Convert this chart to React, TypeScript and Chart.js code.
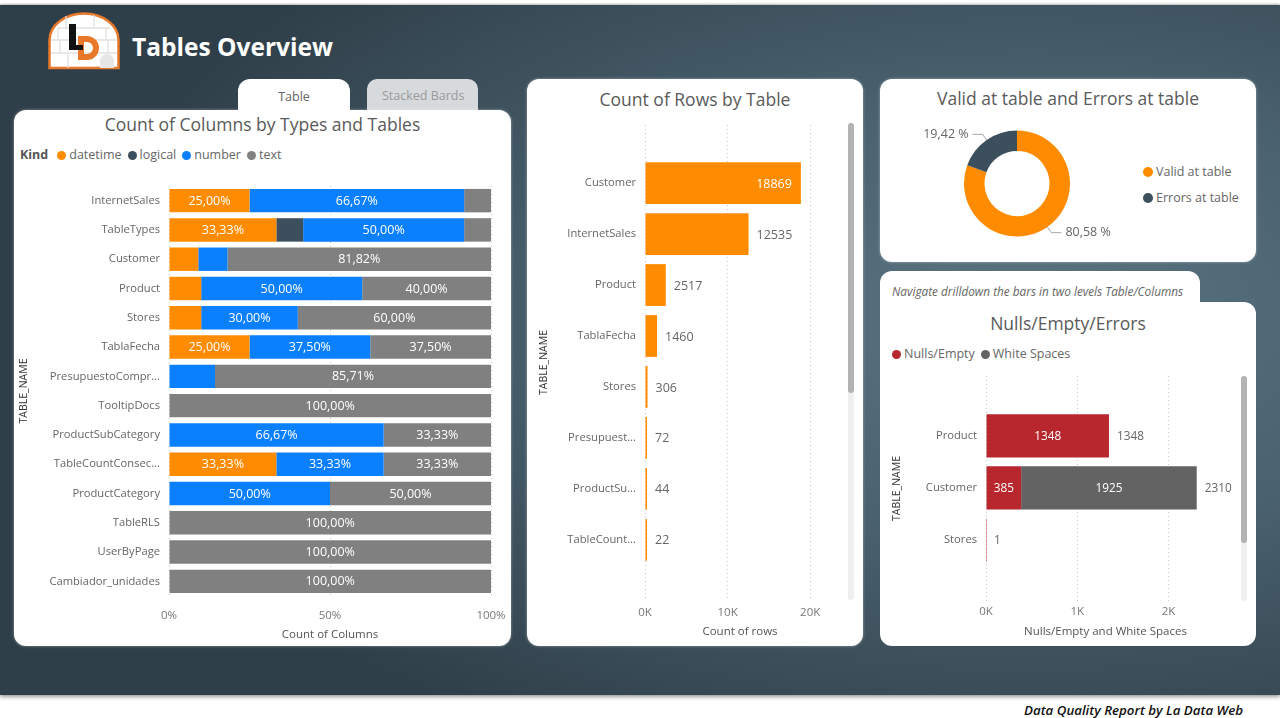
import React, { useEffect, useRef } from "react";
import { Chart, registerables } from "chart.js";

Chart.register(...registerables);

const FONT = "'Open Sans', 'Noto Sans', sans-serif";
Chart.defaults.font.family = FONT;

// ---------- Count of Columns by Types and Tables ----------
const columnTables = [
  "InternetSales", "TableTypes", "Customer", "Product", "Stores", "TablaFecha",
  "PresupuestoCompr...", "TooltipDocs", "ProductSubCategory", "TableCountConsec...",
  "ProductCategory", "TableRLS", "UserByPage", "Cambiador_unidades",
];
const kindNames = ["datetime", "logical", "number", "text"];
const datetimeCols = [3, 4, 1, 1, 1, 2, 0, 0, 0, 1, 0, 0, 0, 0];
const logicalCols = [0, 1, 0, 0, 0, 0, 0, 0, 0, 0, 0, 0, 0, 0];
const numberCols = [8, 6, 1, 5, 3, 3, 1, 0, 2, 1, 1, 0, 0, 0];
const textCols = [1, 1, 9, 4, 6, 3, 6, 1, 1, 1, 1, 1, 1, 1];
const kindColors = ["#FF8C00", "#3B4F5C", "#0A80FF", "#808080"];
const percentTicks = [0, 0.5, 1];

// ---------- Count of Rows by Table ----------
const rowTables = [
  "Customer", "InternetSales", "Product", "TablaFecha", "Stores",
  "Presupuest...", "ProductSu...", "TableCount...",
];
const rowCounts = [18869, 12535, 2517, 1460, 306, 72, 44, 22];
const rowTicks = [0, 10000, 20000];

// ---------- Valid / Errors ----------
const qualityLabels = ["Valid at table", "Errors at table"];
const qualityShares = [80.58, 19.42];
const qualityColors = ["#FF8C00", "#3B4F5C"];

// ---------- Nulls / Empty / Errors ----------
const nullTables = ["Product", "Customer", "Stores"];
const nullsEmpty = [1348, 385, 1];
const whiteSpaces = [0, 1925, 0];
const nullTicks = [0, 1000, 2000];
const nullColors = ["#B8262E", "#636363"];

const fmtPct = (v: number) => (v * 100).toFixed(2).replace(".", ",") + "%";

// ---------- plugins ----------
const columnLabelPlugin = {
  id: "columnLabels",
  afterDatasetsDraw(chart: any) {
    const ctx = chart.ctx;
    ctx.save();
    ctx.font = `12.5px ${FONT}`;
    ctx.textBaseline = "middle";
    ctx.textAlign = "center";
    ctx.fillStyle = "#ffffff";
    chart.data.datasets.forEach((ds: any, d: number) => {
      const meta = chart.getDatasetMeta(d);
      meta.data.forEach((bar: any, i: number) => {
        const v = ds.data[i];
        if (!v) return;
        const text = fmtPct(v);
        const w = Math.abs(bar.x - bar.base);
        const tw = ctx.measureText(text).width;
        if (w > tw + 8) ctx.fillText(text, (bar.x + bar.base) / 2, bar.y + 0.5);
      });
    });
    ctx.restore();
  },
};

const rowLabelPlugin = {
  id: "rowLabels",
  afterDatasetsDraw(chart: any) {
    const { ctx, chartArea } = chart;
    const ds = chart.data.datasets[0];
    const meta = chart.getDatasetMeta(0);
    ctx.save();
    ctx.font = `12.5px ${FONT}`;
    ctx.textBaseline = "middle";
    meta.data.forEach((bar: any, i: number) => {
      const text = String(ds.data[i].x);
      const tw = ctx.measureText(text).width;
      if (bar.x + 8 + tw > chartArea.right) {
        ctx.fillStyle = "#ffffff";
        ctx.textAlign = "right";
        ctx.fillText(text, bar.x - 9, bar.y + 1);
      } else {
        ctx.fillStyle = "#666666";
        ctx.textAlign = "left";
        ctx.fillText(text, bar.x + 8, bar.y + 1);
      }
    });
    ctx.restore();
  },
};

const nullLabelPlugin = {
  id: "nullLabels",
  afterDatasetsDraw(chart: any) {
    const ctx = chart.ctx;
    const xs = chart.scales.x;
    const ys = chart.scales.y;
    ctx.save();
    ctx.font = `11.8px ${FONT}`;
    ctx.textBaseline = "middle";
    ctx.textAlign = "center";
    ctx.fillStyle = "#ffffff";
    chart.data.datasets.forEach((ds: any, d: number) => {
      const meta = chart.getDatasetMeta(d);
      meta.data.forEach((bar: any, i: number) => {
        const v = ds.data[i].x;
        if (!v) return;
        const text = String(v);
        const w = Math.abs(bar.x - bar.base);
        if (w > ctx.measureText(text).width + 8) ctx.fillText(text, (bar.x + bar.base) / 2, bar.y + 0.5);
      });
    });
    ctx.fillStyle = "#666666";
    ctx.textAlign = "left";
    chart.data.labels.forEach((_: any, i: number) => {
      let total = 0;
      chart.data.datasets.forEach((ds: any) => (total += ds.data[i].x));
      ctx.fillText(String(total), xs.getPixelForValue(total) + 8, ys.getPixelForValue(i) + 0.5);
    });
    ctx.restore();
  },
};

const donutLabelPlugin = {
  id: "donutLabels",
  afterDatasetsDraw(chart: any) {
    const ctx = chart.ctx;
    const meta = chart.getDatasetMeta(0);
    const data = chart.data.datasets[0].data;
    ctx.save();
    ctx.font = `12.5px ${FONT}`;
    ctx.textBaseline = "middle";
    meta.data.forEach((arc: any, i: number) => {
      const { x, y, startAngle, endAngle, outerRadius } = arc.getProps(
        ["x", "y", "startAngle", "endAngle", "outerRadius"], true);
      const mid = (startAngle + endAngle) / 2;
      const c = Math.cos(mid), s = Math.sin(mid);
      const x0 = x + c * outerRadius, y0 = y + s * outerRadius;
      const x1 = x + c * (outerRadius + 7), y1 = y + s * (outerRadius + 7);
      const right = c >= 0;
      const x2 = x1 + (right ? 10 : -10);
      ctx.strokeStyle = "#a6a6a6";
      ctx.lineWidth = 1;
      ctx.beginPath();
      ctx.moveTo(x0, y0);
      ctx.lineTo(x1, y1);
      ctx.lineTo(x2, y1);
      ctx.stroke();
      ctx.fillStyle = "#666666";
      ctx.textAlign = right ? "left" : "right";
      ctx.fillText(data[i].toFixed(2).replace(".", ",") + " %", x2 + (right ? 4 : -4), y1);
    });
    ctx.restore();
  },
};

// ---------- configs ----------
const gridX = { color: "#c8c8c8", drawTicks: false, lineWidth: 1 };
const borderX = { display: false, dash: [1, 3] };
const noGrid = { display: false, drawTicks: false };

function columnsConfig(): any {
  const series = [datetimeCols, logicalCols, numberCols, textCols];
  const totals = columnTables.map((_, i) => series.reduce((a, s) => a + s[i], 0));
  return {
    type: "bar",
    data: {
      labels: columnTables,
      datasets: series.map((counts, k) => ({
        label: kindNames[k],
        data: counts.map((c, i) => c / totals[i]),
        backgroundColor: kindColors[k],
        borderWidth: 0,
        barPercentage: 0.8,
        categoryPercentage: 1,
      })),
    },
    options: {
      indexAxis: "y",
      animation: false,
      responsive: true,
      maintainAspectRatio: false,
      events: [],
      layout: { padding: { top: 24, right: 32, left: 0, bottom: 0 } },
      plugins: { legend: { display: false }, tooltip: { enabled: false } },
      scales: {
        x: {
          stacked: true, min: 0, max: 1,
          afterBuildTicks: (s: any) => { s.ticks = percentTicks.map((v) => ({ value: v })); },
          afterFit: (s: any) => { s.height = 50.5; },
          grid: gridX, border: borderX,
          ticks: { padding: 13, color: "#777777", font: { size: 11.5 }, callback: (v: any) => `${Math.round(v * 100)}%` },
          title: { display: true, text: "Count of Columns", color: "#555555", font: { size: 11.5 }, padding: { top: 0, bottom: 4.8 } },
        },
        y: {
          stacked: true,
          afterFit: (s: any) => { s.width = 155; },
          grid: noGrid, border: { display: false },
          ticks: { padding: 9, color: "#666666", font: { size: 11.2 }, autoSkip: false },
          title: { display: true, text: "TABLE_NAME", color: "#333333", font: { size: 10.5 }, padding: { top: 3.7, bottom: 0 } },
        },
      },
    },
    plugins: [columnLabelPlugin],
  };
}

function rowsConfig(): any {
  return {
    type: "bar",
    data: {
      labels: rowTables,
      datasets: [{
        label: "Count of rows",
        data: rowCounts.map((v, i) => ({ x: v, y: i })),
        backgroundColor: "#FF8C00",
        borderWidth: 0,
        minBarLength: 2,
        barPercentage: 0.82,
        categoryPercentage: 1,
      }],
    },
    options: {
      indexAxis: "y",
      animation: false,
      responsive: true,
      maintainAspectRatio: false,
      events: [],
      layout: { padding: { top: 24, right: 32, left: 0, bottom: 0 } },
      plugins: { legend: { display: false }, tooltip: { enabled: false } },
      scales: {
        x: {
          type: "linear", min: 0, max: 23000,
          afterBuildTicks: (s: any) => { s.ticks = rowTicks.map((v) => ({ value: v })); },
          afterFit: (s: any) => { s.height = 46; },
          grid: gridX, border: borderX,
          ticks: { padding: 5.5, color: "#777777", font: { size: 11.5 }, callback: (v: any) => `${v / 1000}K` },
          title: { display: true, text: "Count of rows", color: "#555555", font: { size: 11.5 }, padding: { top: 0, bottom: 7.8 } },
        },
        y: {
          type: "linear", offset: false, min: -1.14, max: 8.18, reverse: true,
          afterBuildTicks: (s: any) => { s.ticks = rowTables.map((_, i) => ({ value: i })); },
          afterFit: (s: any) => { s.width = 118; },
          grid: noGrid, border: { display: false },
          ticks: { padding: 9, color: "#666666", font: { size: 11.2 }, autoSkip: false, callback: (v: any) => rowTables[v] ?? "" },
          title: { display: true, text: "TABLE_NAME", color: "#333333", font: { size: 10.5 }, padding: { top: 10.7, bottom: 0 } },
        },
      },
    },
    plugins: [rowLabelPlugin],
  };
}

function donutConfig(): any {
  return {
    type: "doughnut",
    data: {
      labels: qualityLabels,
      datasets: [{ data: qualityShares, backgroundColor: qualityColors, borderWidth: 0, hoverOffset: 0 }],
    },
    options: {
      animation: false,
      responsive: true,
      maintainAspectRatio: false,
      events: [],
      radius: 53,
      cutout: 32.5,
      layout: { padding: { top: 15.5, bottom: 18.5, left: 0, right: 0 } },
      plugins: { legend: { display: false }, tooltip: { enabled: false } },
    },
    plugins: [donutLabelPlugin],
  };
}

function nullsConfig(): any {
  const series = [nullsEmpty, whiteSpaces];
  return {
    type: "bar",
    data: {
      labels: nullTables,
      datasets: series.map((vals, k) => ({
        label: k === 0 ? "Nulls/Empty" : "White Spaces",
        data: vals.map((v, i) => ({ x: v, y: i })),
        backgroundColor: nullColors[k],
        borderWidth: 0,
        inflateAmount: 0,
        barPercentage: 0.83,
        categoryPercentage: 1,
      })),
    },
    options: {
      indexAxis: "y",
      animation: false,
      responsive: true,
      maintainAspectRatio: false,
      events: [],
      layout: { padding: { top: 24, right: 32, left: 0, bottom: 0 } },
      plugins: { legend: { display: false }, tooltip: { enabled: false } },
      scales: {
        x: {
          type: "linear", stacked: true, min: 0, max: 2620,
          afterBuildTicks: (s: any) => { s.ticks = nullTicks.map((v) => ({ value: v })); },
          afterFit: (s: any) => { s.height = 45; },
          grid: gridX, border: borderX,
          ticks: { padding: 4, color: "#777777", font: { size: 11.5 }, callback: (v: any) => `${v / 1000}K` },
          title: { display: true, text: "Nulls/Empty and White Spaces", color: "#555555", font: { size: 11.5 }, padding: { top: 0, bottom: 7.8 } },
        },
        y: {
          type: "linear", offset: false, stacked: true, min: -1.15, max: 3.17, reverse: true,
          afterBuildTicks: (s: any) => { s.ticks = nullTables.map((_, i) => ({ value: i })); },
          afterFit: (s: any) => { s.width = 106; },
          grid: noGrid, border: { display: false },
          ticks: { padding: 9, color: "#666666", font: { size: 11.2 }, autoSkip: false, callback: (v: any) => nullTables[v] ?? "" },
          title: { display: true, text: "TABLE_NAME", color: "#333333", font: { size: 10.5 }, padding: { top: 10.7, bottom: 0 } },
        },
      },
    },
    plugins: [nullLabelPlugin],
  };
}

// ---------- components ----------
function ChartBox(props: { left: number; top: number; width: number; height: number; config: () => any }) {
  const ref = useRef<HTMLCanvasElement>(null);
  useEffect(() => {
    const chart = new Chart(ref.current as HTMLCanvasElement, props.config());
    return () => chart.destroy();
  }, []);
  return (
    <div style={{ position: "absolute", left: props.left, top: props.top, width: props.width, height: props.height }}>
      <canvas ref={ref} style={{ display: "block" }} />
    </div>
  );
}

const abs = (s: React.CSSProperties): React.CSSProperties => ({ position: "absolute", ...s });

function Title(props: { text: string; left: number; width: number; y: number }) {
  return (
    <div style={abs({ left: props.left, width: props.width, top: props.y - 12, height: 24, lineHeight: "24px",
      textAlign: "center", fontSize: 17.5, color: "#5a5a5a", whiteSpace: "nowrap" })}>{props.text}</div>
  );
}

function Dot(props: { color: string }) {
  return <span style={{ display: "inline-block", width: 9, height: 9, borderRadius: "50%", background: props.color, marginRight: 3 }} />;
}

const panel: React.CSSProperties = { background: "#ffffff", boxShadow: "0 0 3px rgba(255,255,255,0.45)" };

function Logo() {
  return (
    <svg style={abs({ left: 46, top: 10 })} width={76} height={62} viewBox="0 0 76 62">
      <path d="M3.5,58 L3.5,30 A34.5,26.5 0 0 1 72.5,30 L72.5,58 Z" fill="#ffffff" stroke="#E8782A" strokeWidth={2.5} />
      <g stroke="#e0e0e0" strokeWidth={1.3}>
        <line x1={12} y1={18} x2={64} y2={18} />
        <line x1={5} y1={30} x2={71} y2={30} />
        <line x1={5} y1={43} x2={71} y2={43} />
        <line x1={20} y1={6} x2={20} y2={18} />
        <line x1={48} y1={5} x2={48} y2={18} />
        <line x1={14} y1={30} x2={14} y2={43} />
        <line x1={62} y1={30} x2={62} y2={43} />
        <line x1={22} y1={43} x2={22} y2={58} />
        <line x1={12} y1={18} x2={12} y2={30} />
        <line x1={60} y1={18} x2={60} y2={30} />
      </g>
      <path d="M54,58 L54,51 A7,7 0 0 1 68,51 L68,58 Z" fill="#e6e6e6" />
      <path fillRule="evenodd" d="M32,26 H41 A12,12 0 0 1 41,50 H32 Z M38,32 V44 H41 A6,6 0 0 0 41,32 Z" fill="#E8782A" />
      <path d="M23,14 H30 V35 H37 V40 H23 Z" fill="#111111" />
    </svg>
  );
}

export default function App() {
  return (
    <div style={{ position: "fixed", left: 0, top: 0, width: 1280, height: 718, overflow: "hidden", background: "#ffffff", fontFamily: FONT }}>
      {/* dark background */}
      <div style={abs({ left: 0, top: 5, width: 1280, height: 690,
        background: "radial-gradient(ellipse 75% 70% at 80% 45%, #5a7482 0%, #4a616f 45%, #2f3f49 100%)",
        boxShadow: "0 2px 4px rgba(0,0,0,0.4), 0 -1px 2px rgba(0,0,0,0.25)" })} />

      <Logo />
      <div style={abs({ left: 132, top: 31, height: 32, lineHeight: "32px", fontSize: 24.5, fontWeight: 700, color: "#ffffff", whiteSpace: "nowrap" })}>Tables Overview</div>

      {/* left panel with tabs */}
      <div style={abs({ left: 367, top: 79, width: 111, height: 31, background: "#d6dadd", borderRadius: "10px 10px 0 0" })} />
      <div style={abs({ left: 382, top: 87, height: 18, lineHeight: "18px", fontSize: 12.5, color: "#9a9a9a" })}>Stacked Bards</div>
      <div style={abs({ left: 14, top: 110, width: 497, height: 536, borderRadius: 12, ...panel })} />
      <div style={abs({ left: 238, top: 79, width: 112, height: 40, background: "#ffffff", borderRadius: "12px 12px 0 0" })} />
      <div style={abs({ left: 238, top: 87.5, width: 112, height: 18, lineHeight: "18px", fontSize: 12.5, color: "#666666", textAlign: "center" })}>Table</div>
      <Title text="Count of Columns by Types and Tables" left={14} width={497} y={124} />
      <div style={abs({ left: 20, top: 146, height: 18, lineHeight: "18px", fontSize: 12.5, color: "#666666", whiteSpace: "nowrap", display: "flex", alignItems: "center" })}>
        <span style={{ fontWeight: 700, color: "#555555", marginRight: 9 }}>Kind</span>
        {kindNames.map((k, i) => (
          <span key={k} style={{ display: "inline-flex", alignItems: "center", marginRight: 6 }}>
            <Dot color={kindColors[i]} />{k}
          </span>
        ))}
      </div>

      {/* middle panel */}
      <div style={abs({ left: 527, top: 79, width: 336, height: 567, borderRadius: 12, ...panel })} />
      <Title text="Count of Rows by Table" left={527} width={336} y={98.5} />
      <div style={abs({ left: 848, top: 123, width: 6, height: 477, background: "#efefef", borderRadius: 3 })} />
      <div style={abs({ left: 848, top: 123, width: 6, height: 270, background: "#b3b3b3", borderRadius: 3 })} />

      {/* donut panel */}
      <div style={abs({ left: 880, top: 79, width: 376, height: 183, borderRadius: 12, ...panel })} />
      <Title text="Valid at table and Errors at table" left={880} width={376} y={98} />
      {qualityLabels.map((l, i) => (
        <div key={l} style={abs({ left: 1143, top: 163 + i * 25.5, height: 18, lineHeight: "18px", fontSize: 12.5, color: "#666666", display: "flex", alignItems: "center", whiteSpace: "nowrap" })}>
          <span style={{ display: "inline-block", width: 10, height: 10, borderRadius: "50%", background: qualityColors[i], marginRight: 3 }} />{l}
        </div>
      ))}

      {/* nulls panel */}
      <div style={abs({ left: 880, top: 271, width: 320, height: 60, background: "#ffffff", borderRadius: "12px 12px 0 0" })} />
      <div style={abs({ left: 880, top: 302, width: 376, height: 344, background: "#ffffff", borderRadius: "0 12px 12px 12px" })} />
      <div style={abs({ left: 892, top: 283, height: 16, lineHeight: "16px", fontSize: 11.8, fontStyle: "italic", color: "#666666", whiteSpace: "nowrap" })}>Navigate drilldown the bars in two levels Table/Columns</div>
      <Title text="Nulls/Empty/Errors" left={880} width={376} y={322.5} />
      <div style={abs({ left: 892, top: 345, height: 18, lineHeight: "18px", fontSize: 12.5, color: "#666666", display: "flex", alignItems: "center", whiteSpace: "nowrap" })}>
        <span style={{ display: "inline-flex", alignItems: "center", marginRight: 6 }}><Dot color={nullColors[0]} />Nulls/Empty</span>
        <span style={{ display: "inline-flex", alignItems: "center" }}><Dot color={nullColors[1]} />White Spaces</span>
      </div>
      <div style={abs({ left: 1241, top: 376, width: 6, height: 225, background: "#efefef", borderRadius: 3 })} />
      <div style={abs({ left: 1241, top: 376, width: 6, height: 167, background: "#b3b3b3", borderRadius: 3 })} />

      {/* charts */}
      <ChartBox left={14} top={161.5} width={509} height={484.5} config={columnsConfig} />
      <ChartBox left={527} top={101} width={340} height={545} config={rowsConfig} />
      <ChartBox left={900} top={115} width={234} height={140} config={donutConfig} />
      <ChartBox left={880} top={352} width={377} height={294} config={nullsConfig} />

      {/* footer */}
      <div style={abs({ right: 37, top: 701, height: 18, lineHeight: "18px", fontSize: 13.3, fontStyle: "italic", fontWeight: 600, color: "#111111", whiteSpace: "nowrap" })}>Data Quality Report by La Data Web</div>
    </div>
  );
}
